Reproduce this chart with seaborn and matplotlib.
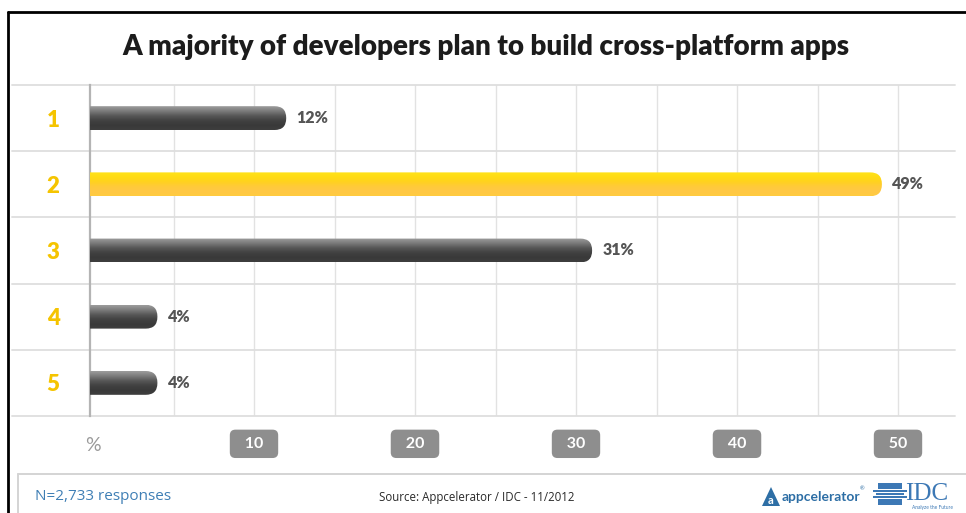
import numpy as np
import pandas as pd
import matplotlib
matplotlib.use("Agg")
import matplotlib.pyplot as plt
import seaborn as sns
from matplotlib.patches import FancyBboxPatch, Rectangle, Polygon
from matplotlib.lines import Line2D

# ---- data ----
platform_counts = ["1", "2", "3", "4", "5"]
share_pct = [12, 49, 31, 4, 4]
is_highlight = [False, True, False, False, False]
tick_values = [0, 10, 20, 30, 40, 50]
tick_texts = ["%", "10", "20", "30", "40", "50"]
title_text = "A majority of developers plan to build cross-platform apps"
responses_note = "N=2,733 responses"
source_note = "Source: Appcelerator / IDC - 11/2012"

sns.set_theme(style="white")
plt.rcParams["font.family"] = ["Lato", "DejaVu Sans"]

W, H = 966, 513
fig = plt.figure(figsize=(W / 100, H / 100), dpi=100)
fig.patch.set_facecolor("white")

def fx(px):
    return px / W

def fy(py):
    return 1 - py / H

ax_left, ax_right, ax_top, ax_bot = 90, 955, 85, 416
ax = fig.add_axes([fx(ax_left), fy(ax_bot), fx(ax_right - ax_left), (ax_bot - ax_top) / H])

df = pd.DataFrame({"count": platform_counts, "share": share_pct})
bar_h = 0.36
sns.barplot(data=df, x="share", y="count", orient="h", width=bar_h,
            color="#444444", ax=ax, zorder=3)

# axis scale: zero at pixel 93, 16.1 px per percentage point
zero_px, px_per_unit = 93, 16.1
xlim = ((ax_left - zero_px) / px_per_unit, (ax_right - zero_px) / px_per_unit)
ylim = (4.5, -0.5)
ax.set_xlim(*xlim)
ax.set_ylim(*ylim)

# rounded, gradient-filled bars built from the seaborn rectangles
x_per_px = 1 / px_per_unit
y_per_px = 5 / (ax_bot - ax_top)
aspect = y_per_px / x_per_px
grey_grad = np.array(["#9c9c9c", "#7c7c7c", "#585858", "#424242", "#393939", "#3e3e3e"])
yellow_grad = np.array(["#ffe21a", "#ffdc14", "#ffd21e", "#ffca3a", "#ffc845", "#ffcb40"])

def grad_image(cols):
    rgb = np.array([matplotlib.colors.to_rgb(c) for c in cols])
    n = 64
    t = np.linspace(0, len(cols) - 1, n)
    img = np.stack([np.interp(t, np.arange(len(cols)), rgb[:, k]) for k in range(3)], axis=1)
    return img[:, None, :]

bars = list(ax.patches)
for patch, hl in zip(bars, is_highlight):
    x0, y0 = patch.get_x(), patch.get_y()
    w, h = patch.get_width(), patch.get_height()
    patch.remove()
    start = xlim[0] - 1.0
    r = 0.49 * h / aspect
    rb = FancyBboxPatch((start, y0), (x0 + w) - start, h,
                        boxstyle=f"round,pad=0,rounding_size={r}",
                        mutation_aspect=aspect, facecolor="none",
                        edgecolor="none", zorder=3)
    ax.add_patch(rb)
    img = grad_image(yellow_grad if hl else grey_grad)
    im = ax.imshow(img, extent=[start, x0 + w, y0 + h, y0], aspect="auto",
                   origin="upper", zorder=3, interpolation="bilinear")
    im.set_clip_path(rb)

ax.set_xlim(*xlim)
ax.set_ylim(*ylim)

# value labels at bar ends
for i, v in enumerate(share_pct):
    ax.annotate(f"{v}%", xy=(v, i), xytext=(7.5, 0), textcoords="offset points",
                ha="left", va="center", fontsize=11.5, fontweight="heavy",
                color="#555555", zorder=4)

# grid
for gx in range(5, 55, 5):
    ax.axvline(gx, color="#e2e2e2", lw=1, zorder=1)
for gy in np.arange(-0.5, 5.0, 1.0):
    ax.axhline(gy, xmin=(12 - ax_left) / (ax_right - ax_left), xmax=1.0,
               color="#dedede", lw=1.3, clip_on=False, zorder=1)

for s in ["top", "right", "bottom"]:
    ax.spines[s].set_visible(False)
ax.spines["left"].set_color("#b4b4b4")
ax.spines["left"].set_linewidth(1.6)

# y tick labels: yellow category numbers
ax.set_ylabel("")
ax.set_xlabel("")
ax.tick_params(axis="y", length=0, pad=22)
for lab in ax.get_yticklabels():
    lab.set_color("#f5c400")
    lab.set_fontsize(16)
    lab.set_fontweight("heavy")

# x ticks: grey rounded badges
ax.set_xticks(tick_values)
ax.set_xticklabels([t if t == "%" else f"  {t}  " for t in tick_texts])
ax.tick_params(axis="x", length=9, width=1, color="#d8d8d8", pad=6, direction="out")
for lab in ax.get_xticklabels():
    if lab.get_text() == "%":
        lab.set_color("#9a9a9a")
        lab.set_fontsize(14)
        lab.set_x(-0.25)
    else:
        lab.set_color("white")
        lab.set_fontsize(11.5)
        lab.set_fontweight("bold")
        lab.set_bbox(dict(boxstyle="round,pad=0.45,rounding_size=0.35",
                          fc="#8e8e8e", ec="none"))

# title
fig.text(fx(486), fy(47), title_text, ha="center", va="center",
         fontsize=20, fontweight="heavy", color="#1c1c1c")

# slide frame and footer separators
fig.add_artist(Line2D([fx(8), fx(8)], [0, fy(12)], color="black", lw=2))
fig.add_artist(Line2D([fx(8), 1], [fy(12), fy(12)], color="black", lw=2))
fig.add_artist(Line2D([fx(18), 1], [fy(474), fy(474)], color="#d4d4d4", lw=1.4))
fig.add_artist(Line2D([fx(18), fx(18)], [0, fy(474)], color="#d4d4d4", lw=1.4))

# footer text
fig.text(fx(35), fy(497), responses_note, ha="left", va="center",
         fontsize=11, color="#3f7fb5", family=["Open Sans", "DejaVu Sans"])
fig.text(fx(477), fy(497), source_note, ha="center", va="center",
         fontsize=8.3, color="#2a2a2a", family=["Open Sans", "DejaVu Sans"])

# appcelerator mark
tri = Polygon([[fx(762), fy(506)], [fx(780), fy(506)], [fx(771), fy(487)]],
              closed=True, transform=fig.transFigure, fc="#2d6ea5", ec="none")
fig.add_artist(tri)
fig.text(fx(771), fy(500), "a", ha="center", va="center", fontsize=8,
         fontweight="bold", color="white")
fig.text(fx(782), fy(497), "appcelerator", ha="left", va="center",
         fontsize=10, fontweight="bold", color="#2d6ea5")
fig.text(fx(860), fy(489), "®", ha="left", va="center", fontsize=4, color="#2d6ea5")

# IDC mark
cx, cy, rad = 890, 494, 11
for k, yy in enumerate(np.linspace(cy - rad + 1.5, cy + rad - 1.5, 7)):
    half = np.sqrt(max(rad ** 2 - (yy - cy) ** 2, 0)) + (6 if k % 2 == 0 else 3)
    fig.add_artist(Rectangle((fx(cx - half), fy(yy + 1.2)), fx(2 * half), 2.4 / H,
                             transform=fig.transFigure, fc="#3c78b5", ec="none"))
fig.text(fx(905), fy(494), "IDC", ha="left", va="center", fontsize=18,
         color="#3c78b5", family=["Liberation Serif", "DejaVu Serif"])
fig.text(fx(912), fy(507), "Analyze the Future", ha="left", va="center",
         fontsize=3.5, color="#3c78b5")

fig.savefig("out.png", dpi=100, facecolor="white")
